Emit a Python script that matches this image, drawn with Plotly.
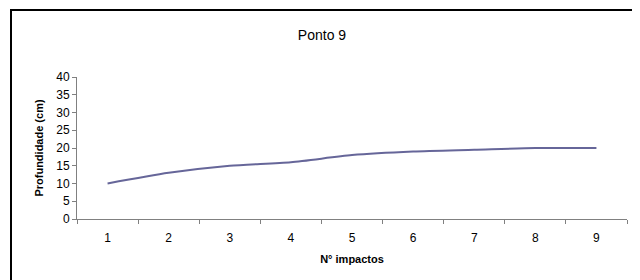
import plotly.graph_objects as go

impactos = ["1", "2", "3", "4", "5", "6", "7", "8", "9"]
profundidade = [10, 13, 15, 16, 18, 19, 19.5, 20, 20]
y_ticks = [0, 5, 10, 15, 20, 25, 30, 35, 40]

OFF = 8  # page body margin offset
W, H = 640 - OFF, 280 - OFF
# target plot area in screenshot pixels
PX0, PX1, PY0, PY1 = 77, 627, 77, 219
L, R = PX0 - OFF, W - (PX1 - OFF)
T, B = PY0 - OFF, H - (PY1 - OFF)
pw, ph = PX1 - PX0, PY1 - PY0

def px_x(x):
    return (x - PX0) / pw

def px_y(y):
    return (PY1 - y) / ph

fig = go.Figure()
fig.add_trace(go.Scatter(
    x=impactos, y=profundidade, mode="lines",
    line=dict(color="#666699", width=2, shape="spline", smoothing=0.7),
    hoverinfo="skip", showlegend=False,
))

fig.update_layout(
    width=W, height=H,
    margin=dict(l=L, r=R, t=T, b=B),
    paper_bgcolor="white", plot_bgcolor="white",
    font=dict(family="Liberation Sans, Arial", color="black", size=12),
    title=dict(text="Ponto 9", x=px_x(322), xref="paper", xanchor="center",
               y=1 - (35 - OFF) / H, yanchor="middle",
               font=dict(size=14, family="Liberation Sans, Arial")),
    xaxis=dict(
        type="category", range=[-0.5, 8.5],
        showline=True, linecolor="#808080", linewidth=1,
        ticks="outside", tickson="boundaries", ticklen=4, tickcolor="#808080",
        showgrid=False, zeroline=False,
        tickfont=dict(size=12), ticklabelstandoff=8,
        title=dict(text="<b>N° impactos</b>", font=dict(size=11), standoff=10),
    ),
    yaxis=dict(
        range=[0, 40], tickvals=y_ticks,
        showline=True, linecolor="#808080", linewidth=1,
        ticks="outside", ticklen=4, tickcolor="#808080",
        showgrid=False, zeroline=False,
        tickfont=dict(size=12),
        title=dict(text="<b>Profundidade (cm)</b>", font=dict(size=11), standoff=10),
    ),
    shapes=[dict(
        type="rect", xref="paper", yref="paper",
        x0=px_x(11), x1=px_x(633), y0=px_y(300), y1=px_y(10),
        line=dict(color="black", width=2), fillcolor="rgba(0,0,0,0)",
        layer="below",
    )],
)

fig.write_html("out.html")
